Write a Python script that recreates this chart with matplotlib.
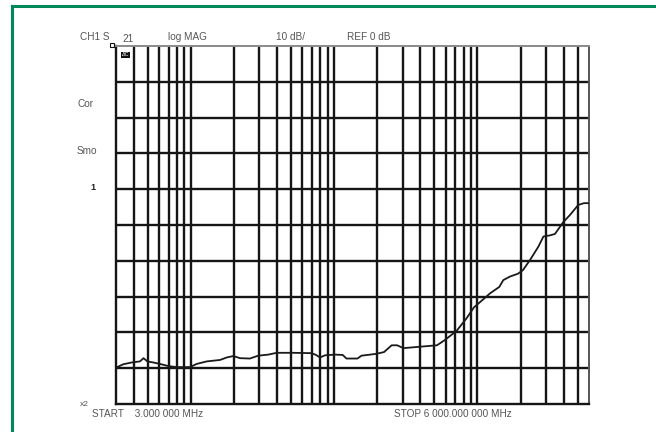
import numpy as np
import matplotlib
matplotlib.use('Agg')
import matplotlib.pyplot as plt
from matplotlib.lines import Line2D

plt.rcParams['font.family'] = ['Liberation Sans Narrow', 'Liberation Sans', 'DejaVu Sans']

# S21 trace, frequency in MHz and magnitude in dB (REF 0 dB, 10 dB/div)
freq_mhz = [3.02, 3.37, 3.86, 4.41, 4.67, 4.97, 5.46, 6.07, 6.95, 7.96,
            9.85, 10.98, 12.9, 15.95, 17.8, 19.8, 22.0, 25.8, 29.5, 34.7,
            39.7, 51.8, 69.6, 74.6, 79.6, 86.2, 101, 114.6, 121.8, 145.4,
            155, 195.7, 222.5, 251.8, 275, 304.4, 396.7, 521.4, 588.3, 713.4,
            837.6, 945, 1146, 1222, 1419, 1513, 1685, 1917, 2076, 2323,
            2655, 2887, 3204, 3472, 3968, 4419, 5049, 5533, 6000]
s21_db = [-49.8, -48.9, -48.4, -48.1, -47.2, -48.1, -48.4, -48.8, -49.4, -49.7,
          -49.7, -48.8, -48.1, -47.7, -47.0, -46.6, -47.2, -47.3, -46.5, -46.2,
          -45.7, -45.7, -45.8, -46.3, -47.0, -46.4, -46.2, -46.3, -47.3, -47.3,
          -46.5, -46.0, -45.5, -43.6, -43.6, -44.4, -44.0, -43.6, -42.2, -39.6,
          -36.1, -33.0, -30.1, -29.1, -27.3, -25.4, -24.4, -23.6, -22.6, -19.8,
          -16.1, -13.2, -12.9, -12.5, -9.2, -7.2, -4.4, -3.9, -3.9]

start_mhz = 3
stop_mhz = 6000
ref_db = 0
db_per_div = 10
# log grid: 4..9, 10..90, 100..900, 1000..5000 MHz
grid_freqs = [m * d for d in (1, 10, 100, 1000) for m in range(1, 10)
              if start_mhz < m * d < stop_mhz]
db_levels = [ref_db + db_per_div * k for k in range(-5, 4)]

fig = plt.figure(figsize=(6.56, 4.32), dpi=100)
ax = fig.add_axes([116 / 656, 1 - 404 / 432, 473 / 656, 358 / 432])
ax.set_xscale('log')
ax.set_xlim(start_mhz, stop_mhz)
ax.set_ylim(-60, 40)

ax.set_xticks(grid_freqs)
ax.set_xticks([], minor=True)
ax.set_yticks(db_levels)
ax.set_xticklabels([])
ax.set_yticklabels([])
ax.tick_params(length=0, which='both')
ax.grid(True, color='#151515', linewidth=1.7)

for side in ('left', 'bottom'):
    ax.spines[side].set_color('#151515')
    ax.spines[side].set_linewidth(1.7)
ax.spines['top'].set_color('#8a8a8a')
ax.spines['top'].set_linewidth(1.4)
ax.spines['right'].set_color('#555555')
ax.spines['right'].set_linewidth(1.4)

ax.plot(freq_mhz, s21_db, color='#1a1a1a', linewidth=1.3, zorder=3)

# annotation text around the display
tc = '#555555'
fs = 7.2
fig.text(80 / 656, 1 - 37 / 432, 'CH1 S', color=tc, fontsize=fs, va='center')
fig.text(122 / 656, 1 - 39.5 / 432, '21', color=tc, fontsize=fs, va='center')
fig.text(168 / 656, 1 - 37 / 432, 'log MAG', color=tc, fontsize=fs, va='center')
fig.text(276 / 656, 1 - 37 / 432, '10 dB/', color=tc, fontsize=fs, va='center')
fig.text(347 / 656, 1 - 37 / 432, 'REF 0 dB', color=tc, fontsize=fs, va='center')
fig.text(77 / 656, 1 - 104 / 432, 'Cor', color=tc, fontsize=fs, va='center')
fig.text(77 / 656, 1 - 151 / 432, 'Smo', color=tc, fontsize=fs, va='center')
fig.text(90 / 656, 1 - 187 / 432, '1', color='#222222', fontsize=6.5,
         fontweight='bold', va='center')
fig.text(80 / 656, 1 - 404 / 432, 'x2', color=tc, fontsize=6, va='center')
fig.text(92 / 656, 1 - 414 / 432, 'START    3.000 000 MHz', color=tc, fontsize=fs,
         va='center')
fig.text(394 / 656, 1 - 414 / 432, 'STOP 6 000.000 000 MHz', color=tc, fontsize=fs,
         va='center')
fig.text(122 / 656, 1 - 55 / 432, 'ΔC', color='white', fontsize=4, va='center',
         bbox=dict(boxstyle='square,pad=0.15', fc='#111111', ec='none'))
fig.add_artist(Line2D([112 / 656], [1 - 45 / 432], marker='s', markersize=3,
                      markerfacecolor='white', markeredgecolor='#111111',
                      markeredgewidth=0.8, transform=fig.transFigure))

# green frame on the left and top
frame_c = '#00875a'
fig.add_artist(Line2D([11.5 / 656, 11.5 / 656], [0, 1 - 6 / 432], color=frame_c,
                      linewidth=2.2, transform=fig.transFigure))
fig.add_artist(Line2D([11.5 / 656, 1], [1 - 6 / 432, 1 - 6 / 432], color=frame_c,
                      linewidth=2.2, transform=fig.transFigure))

fig.savefig('out.png', dpi=100)
